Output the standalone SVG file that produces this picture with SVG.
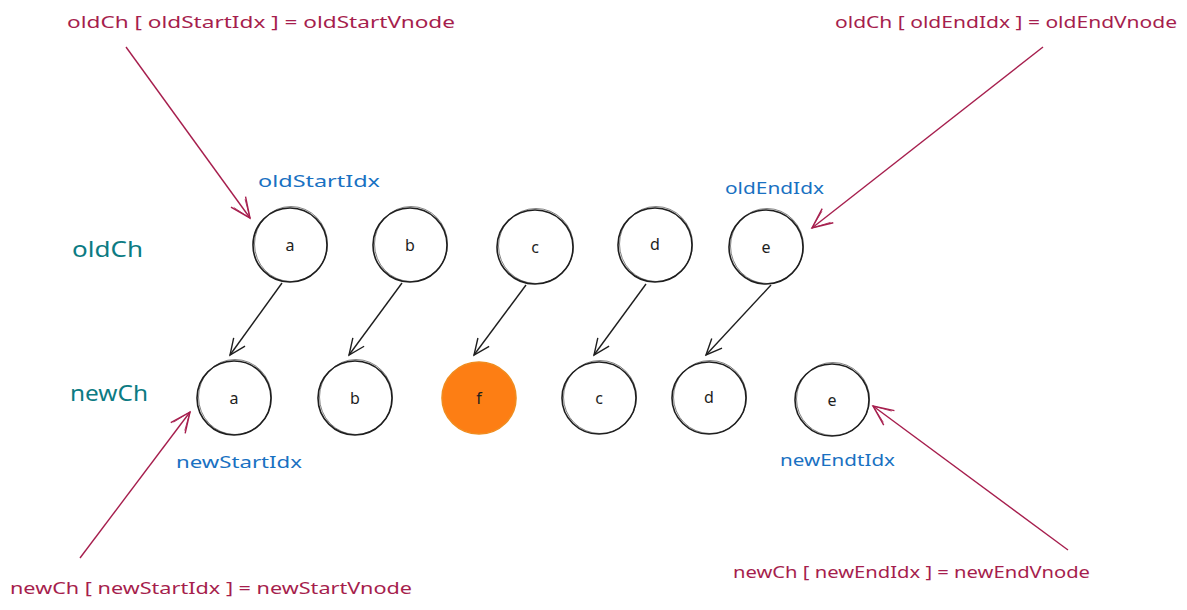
<svg xmlns="http://www.w3.org/2000/svg" width="1187" height="610" viewBox="0 0 1187 610">
  <style>
    text { font-family: "Noto Sans", "Liberation Sans", sans-serif; }
    .ref { fill: #a61e4d; font-size: 17px; }
    .idx { fill: #1971c2; font-size: 17px; }
    .row { fill: #0c7b83; font-size: 22px; }
    .lbl { fill: #1e1e1e; font-size: 16px; text-anchor: middle; }
    .node { fill: none; stroke: #1e1e1e; stroke-width: 1.6; }
    .node2 { fill: none; stroke: #1e1e1e; stroke-width: 0.8; opacity: 0.7; }
    .hot { fill: #fd7e14; stroke: #f08c1f; stroke-width: 1.6; }
    .link { fill: none; stroke: #1e1e1e; stroke-width: 1.4; }
    .ptr { fill: none; stroke: #a61e4d; stroke-width: 1.4; }
  </style>
  <defs>
    <marker id="headDark" viewBox="0 0 20 20" refX="18" refY="10" markerWidth="20" markerHeight="20" markerUnits="userSpaceOnUse" orient="auto">
      <polyline points="2,3 18,10 2,17" fill="none" stroke="#1e1e1e" stroke-width="1.4"/>
    </marker>
    <marker id="headRed" viewBox="0 0 24 24" refX="22" refY="12" markerWidth="24" markerHeight="24" markerUnits="userSpaceOnUse" orient="auto">
      <polyline points="2,3 22,12 2,21" fill="none" stroke="#a61e4d" stroke-width="1.4"/>
      <polyline points="4,5 22,12 4,19" fill="none" stroke="#a61e4d" stroke-width="0.8"/>
    </marker>
  </defs>

  <rect width="1187" height="610" fill="#ffffff"/>

  <!-- row titles -->
  <text class="row" x="72" y="257" textLength="71" lengthAdjust="spacingAndGlyphs">oldCh</text>
  <text class="row" x="70" y="401" textLength="78" lengthAdjust="spacingAndGlyphs">newCh</text>

  <!-- pointer captions -->
  <text class="ref" x="67" y="28" textLength="388" lengthAdjust="spacingAndGlyphs">oldCh [ oldStartIdx ] = oldStartVnode</text>
  <text class="ref" x="835" y="28" textLength="342" lengthAdjust="spacingAndGlyphs">oldCh [ oldEndIdx ] = oldEndVnode</text>
  <text class="ref" x="10" y="594" textLength="402" lengthAdjust="spacingAndGlyphs">newCh [ newStartIdx ] = newStartVnode</text>
  <text class="ref" x="733" y="578" textLength="357" lengthAdjust="spacingAndGlyphs">newCh [ newEndIdx ] = newEndVnode</text>

  <!-- index labels -->
  <text class="idx" x="258" y="187" textLength="122" lengthAdjust="spacingAndGlyphs">oldStartIdx</text>
  <text class="idx" x="725" y="194" textLength="99" lengthAdjust="spacingAndGlyphs">oldEndIdx</text>
  <text class="idx" x="176" y="468" textLength="126" lengthAdjust="spacingAndGlyphs">newStartIdx</text>
  <text class="idx" x="780" y="466" textLength="115" lengthAdjust="spacingAndGlyphs">newEndtIdx</text>

  <!-- old children -->
  <g id="old-a"><ellipse class="node" cx="290" cy="245" rx="37" ry="37"/><ellipse class="node2" cx="291" cy="244" rx="36.5" ry="37.5"/><text class="lbl" x="290" y="251">a</text></g>
  <g id="old-b"><ellipse class="node" cx="410" cy="245" rx="37" ry="37"/><ellipse class="node2" cx="411" cy="244" rx="36.5" ry="37.5"/><text class="lbl" x="410" y="251">b</text></g>
  <g id="old-c"><ellipse class="node" cx="535" cy="247" rx="38" ry="37"/><ellipse class="node2" cx="536" cy="246" rx="37.5" ry="37.5"/><text class="lbl" x="535" y="253">c</text></g>
  <g id="old-d"><ellipse class="node" cx="655" cy="245" rx="37" ry="37"/><ellipse class="node2" cx="656" cy="244" rx="36.5" ry="37.5"/><text class="lbl" x="655" y="250">d</text></g>
  <g id="old-e"><ellipse class="node" cx="766" cy="247" rx="37" ry="37"/><ellipse class="node2" cx="767" cy="246" rx="36.5" ry="37.5"/><text class="lbl" x="766" y="253">e</text></g>

  <!-- new children -->
  <g id="new-a"><ellipse class="node" cx="234" cy="398" rx="37" ry="37"/><ellipse class="node2" cx="235" cy="397" rx="36.5" ry="37.5"/><text class="lbl" x="234" y="404">a</text></g>
  <g id="new-b"><ellipse class="node" cx="355" cy="398" rx="37" ry="37"/><ellipse class="node2" cx="356" cy="397" rx="36.5" ry="37.5"/><text class="lbl" x="355" y="404">b</text></g>
  <g id="new-f"><ellipse class="hot" cx="479" cy="398" rx="37" ry="36"/><text class="lbl" x="479" y="404">f</text></g>
  <g id="new-c"><ellipse class="node" cx="599" cy="398" rx="37" ry="36"/><ellipse class="node2" cx="600" cy="397" rx="36.5" ry="36.5"/><text class="lbl" x="599" y="404">c</text></g>
  <g id="new-d"><ellipse class="node" cx="709" cy="398" rx="37" ry="36"/><ellipse class="node2" cx="710" cy="397" rx="36.5" ry="36.5"/><text class="lbl" x="709" y="403">d</text></g>
  <g id="new-e"><ellipse class="node" cx="832" cy="400" rx="37" ry="36"/><ellipse class="node2" cx="833" cy="399" rx="36.5" ry="36.5"/><text class="lbl" x="832" y="406">e</text></g>

  <!-- connectors -->
  <g id="connectors">
    <line class="link" x1="282" y1="283" x2="230" y2="355" marker-end="url(#headDark)"/>
    <line class="link" x1="402" y1="283" x2="349" y2="355" marker-end="url(#headDark)"/>
    <line class="link" x1="526" y1="285" x2="474" y2="355" marker-end="url(#headDark)"/>
    <line class="link" x1="646" y1="284" x2="594" y2="355" marker-end="url(#headDark)"/>
    <line class="link" x1="771" y1="285" x2="706" y2="355" marker-end="url(#headDark)"/>

    <line class="ptr" x1="126" y1="47" x2="250" y2="218" marker-end="url(#headRed)"/>
    <line class="ptr" x1="1043" y1="47" x2="812" y2="228" marker-end="url(#headRed)"/>
    <line class="ptr" x1="80" y1="558" x2="190" y2="412" marker-end="url(#headRed)"/>
    <line class="ptr" x1="1068" y1="550" x2="873" y2="406" marker-end="url(#headRed)"/>
  </g>
</svg>
